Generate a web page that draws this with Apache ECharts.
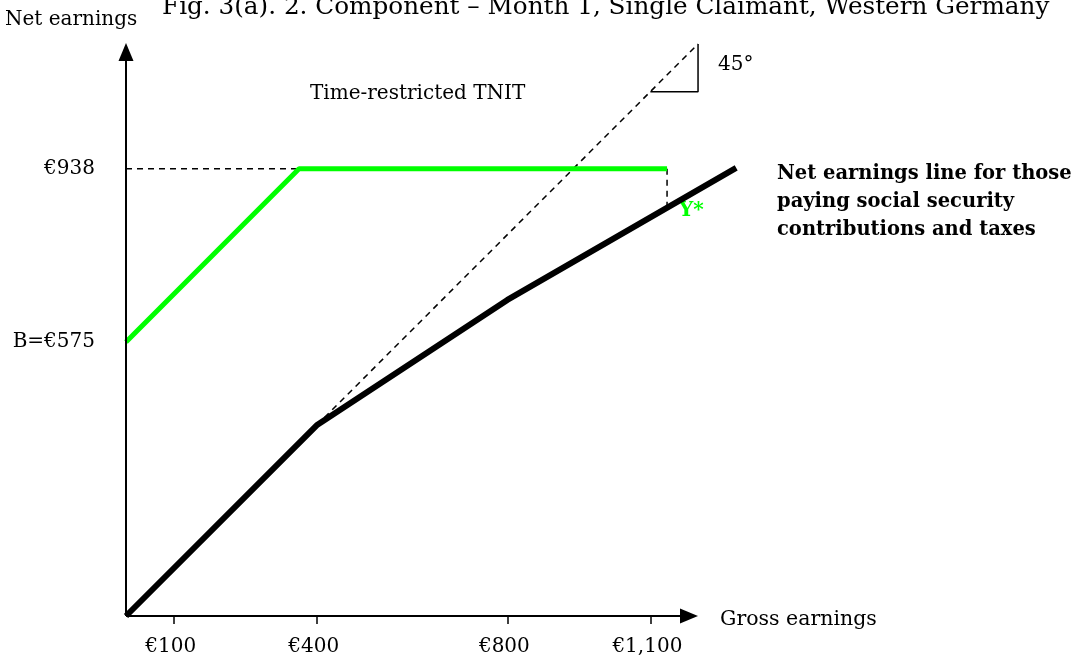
<!DOCTYPE html>
<html>
<head>
<meta charset="utf-8">
<script src="https://cdn.jsdelivr.net/npm/echarts@6/dist/echarts.min.js"></script>
<style>
html,body{margin:0;padding:0;background:#fff;}
#chart{width:1081px;height:668px;}
</style>
</head>
<body>
<div id="chart"></div>
<script>
// ---- data (euro values) ----
var xTickValues = [100, 400, 800, 1100];
var xTickLabels = ['€100', '€400', '€800', '€1,100'];
var yTickValues = [575, 938];
var yTickLabels = ['B=€575', '€938'];

// net earnings line for those paying social security contributions and taxes
var netEarningsLine = [[0, 0], [400, 400], [800, 663], [1280, 940]];
// time-restricted TNIT (green)
var tnitLine = [[0, 575], [363, 938], [1135, 938]];
// 45-degree reference (dashed)
var fortyFiveLine = [[400, 400], [1200, 1200]];
// dashed guide from y-axis to TNIT kink
var guide938 = [[0, 938], [363, 938]];
// dashed drop at Y*
var guideYstar = [[1135, 938], [1135, 856]];
// 45-degree angle marker triangle
var angleMarker = [[1100, 1100], [1200, 1100], [1200, 1200]];
// axis extents (arrow centres)
var xAxisEnd = 1181;
var yAxisEnd = 1183;

var FONT = 'DejaVu Serif';
var K = 0.4767; // px per euro (same on both axes -> true 45 degrees)
var X_MAX = 1300, Y_MAX = 1220;

function lineSeries(data, color, width, type, z) {
  return {
    type: 'line', data: data, symbol: 'none', clip: false, z: z,
    lineStyle: { color: color, width: width, type: type, cap: 'butt' },
    silent: true, animation: false
  };
}

var black = lineSeries(netEarningsLine, '#000', 6, 'solid', 3);
black.markLine = {
  silent: true, animation: false, symbol: ['none', 'triangle'], symbolSize: [15, 18],
  label: { show: false },
  lineStyle: { color: '#000', width: 2, type: 'solid' },
  emphasis: { disabled: true },
  data: [
    [{ coord: [0, 0] }, { coord: [xAxisEnd, 0] }],
    [{ coord: [0, 0] }, { coord: [0, yAxisEnd] }]
  ]
};

var chart = echarts.init(document.getElementById('chart'));
chart.setOption({
  animation: false,
  backgroundColor: '#ffffff',
  grid: { left: 126, bottom: 52, width: X_MAX * K, height: Y_MAX * K, containLabel: false },
  xAxis: {
    type: 'value', min: 0, max: X_MAX,
    splitLine: { show: false },
    axisLine: { show: false },
    axisTick: { show: true, customValues: xTickValues, length: 8, inside: false,
      lineStyle: { color: '#000', width: 1.5 } },
    axisLabel: { customValues: xTickValues, margin: 21, color: '#000',
      fontFamily: FONT, fontSize: 20, padding: [0, 6, 0, 0],
      formatter: function (v) { var i = xTickValues.indexOf(v); return i >= 0 ? xTickLabels[i] : ''; } }
  },
  yAxis: {
    type: 'value', min: 0, max: Y_MAX,
    splitLine: { show: false },
    axisLine: { show: false },
    axisTick: { show: false },
    axisLabel: { customValues: yTickValues, margin: 31, color: '#000',
      fontFamily: FONT, fontSize: 20,
      formatter: function (v) { var i = yTickValues.indexOf(v); return i >= 0 ? yTickLabels[i] : ''; } }
  },
  series: [
    lineSeries(guide938, '#000', 1.5, [6, 5], 2),
    lineSeries(guideYstar, '#000', 1.5, [6, 5], 2),
    lineSeries(fortyFiveLine, '#000', 1.5, [6, 5], 2),
    lineSeries(angleMarker, '#000', 1.5, 'solid', 2),
    black,
    lineSeries(tnitLine, '#00ff00', 5, 'solid', 4)
  ],
  graphic: [
    { type: 'text', left: 162, top: -5, style: { text: 'Fig. 3(a). 2. Component – Month 1, Single Claimant, Western Germany', font: '24.7px "' + FONT + '"', fill: '#000' } },
    { type: 'text', left: 5, top: 10, style: { text: 'Net earnings', font: '20px "' + FONT + '"', fill: '#000' } },
    { type: 'text', left: 310, top: 84, style: { text: 'Time-restricted TNIT', font: '20px "' + FONT + '"', fill: '#000' } },
    { type: 'text', left: 718, top: 55, style: { text: '45°', font: '20px "' + FONT + '"', fill: '#000' } },
    { type: 'text', left: 720, top: 609, style: { text: 'Gross earnings', font: '20.5px "' + FONT + '"', fill: '#000' } },
    { type: 'text', left: 679, top: 201, style: { text: 'Y*', font: 'bold 20px "' + FONT + '"', fill: '#00ff00' } },
    { type: 'text', left: 777, top: 160, style: { text: 'Net earnings line for those\npaying social security\ncontributions and taxes', font: 'bold 19.5px "' + FONT + '"', fill: '#000', lineHeight: 28 } }
  ]
});
</script>
</body>
</html>
